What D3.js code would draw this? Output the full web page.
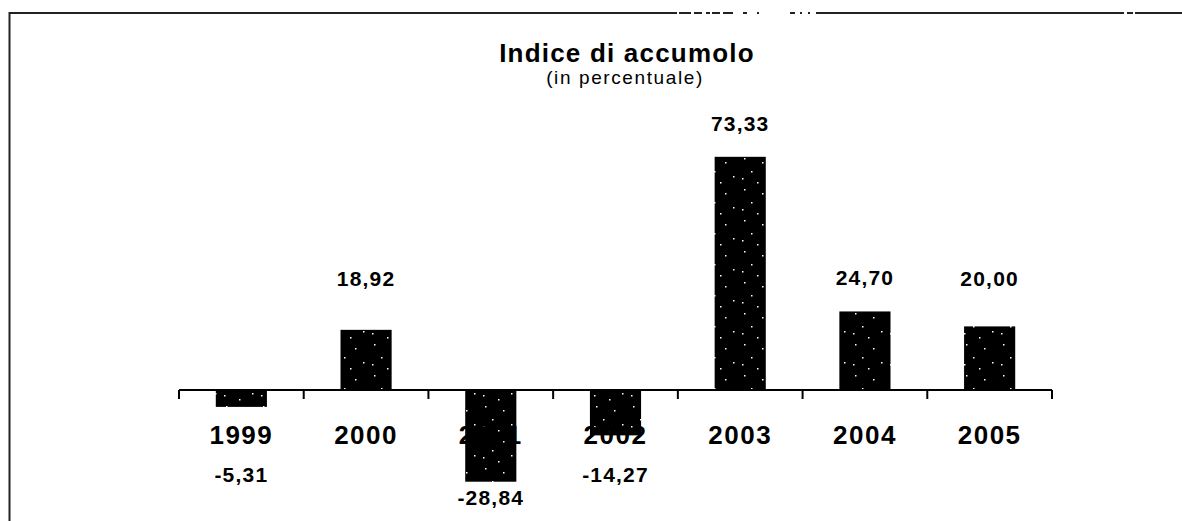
<!DOCTYPE html>
<html>
<head>
<meta charset="utf-8">
<script src="https://cdn.jsdelivr.net/npm/d3@7"></script>
<style>
  body { margin: 0; background: #fff; }
  text { font-family: "Liberation Sans", Arial, sans-serif; fill: #000; }
</style>
</head>
<body>
<script>
var years = ["1999", "2000", "2001", "2002", "2003", "2004", "2005"];
var values = [-5.31, 18.92, -28.84, -14.27, 73.33, 24.70, 20.00];
var valueLabels = ["-5,31", "18,92", "-28,84", "-14,27", "73,33", "24,70", "20,00"];

var W = 1182, H = 521;

var svg = d3.select("body").append("svg")
    .attr("width", W)
    .attr("height", H);

// speckled fill for the bars (sparse white dots on black)
var pat = svg.append("defs").append("pattern")
    .attr("id", "speck")
    .attr("patternUnits", "userSpaceOnUse")
    .attr("width", 37).attr("height", 31);
pat.append("rect").attr("width", 37).attr("height", 31).attr("fill", "#000");
[[4,3],[22,7],[11,16],[30,21],[17,27],[2,23]].forEach(function(p){
  pat.append("rect").attr("x", p[0]).attr("y", p[1]).attr("width", 1.5).attr("height", 1.5).attr("fill", "#fff");
});

// frame
var frame = svg.append("g").attr("stroke", "#222").attr("stroke-width", 2);
frame.append("line").attr("x1", 9.5).attr("y1", 12).attr("x2", 9.5).attr("y2", H);
[[9, 677], [679, 691], [694, 702], [706, 710], [712, 720], [723, 733], [743, 747], [757, 759],
 [790, 795], [800, 802], [808, 810], [816, 1124], [1127, 1133], [1135, 1182]].forEach(function(s){
  frame.append("line").attr("x1", s[0]).attr("y1", 13).attr("x2", s[1]).attr("y2", 13);
});

// title
svg.append("text")
    .attr("x", 627).attr("y", 62)
    .attr("text-anchor", "middle")
    .style("font-size", "26px").style("font-weight", "bold").style("letter-spacing", "1.2px")
    .text("Indice di accumolo");
svg.append("text")
    .attr("x", 625).attr("y", 84)
    .attr("text-anchor", "middle")
    .style("font-size", "19px").style("letter-spacing", "1.6px")
    .text("(in percentuale)");

/*Scales*/
var xScale = d3.scaleBand()
    .domain(years)
    .range([179, 1052])
    .padding(0);
var yScale = d3.scaleLinear()
    .domain([-35, 80])
    .range([390 + 35 * 3.18, 390 - 80 * 3.18]);

var barW = xScale.bandwidth() * 0.41;

// bars
svg.selectAll(".bar")
    .data(values)
    .enter().append("rect")
    .attr("class", "bar")
    .attr("x", function(d, i){ return xScale(years[i]) + xScale.bandwidth() / 2 - barW / 2; })
    .attr("y", function(d){ return yScale(Math.max(0, d)); })
    .attr("width", barW)
    .attr("height", function(d){ return Math.abs(yScale(d) - yScale(0)); })
    .attr("fill", "url(#speck)");

// axis line and ticks at band edges
var y0 = yScale(0);
var axis = svg.append("g").attr("stroke", "#000").attr("stroke-width", 2);
axis.append("line")
    .attr("x1", xScale.range()[0]).attr("x2", xScale.range()[1])
    .attr("y1", y0).attr("y2", y0);
var edges = years.map(function(y){ return xScale(y); }).concat([xScale.range()[1]]);
axis.selectAll(".tick")
    .data(edges)
    .enter().append("line")
    .attr("x1", function(d){ return d; }).attr("x2", function(d){ return d; })
    .attr("y1", y0).attr("y2", y0 + 9);

// year labels
svg.selectAll(".year")
    .data(years)
    .enter().append("text")
    .attr("x", function(d){ return xScale(d) + xScale.bandwidth() / 2; })
    .attr("y", 444)
    .attr("text-anchor", "middle")
    .style("font-size", "26px").style("font-weight", "bold").style("letter-spacing", "1.5px")
    .text(function(d){ return d; });

// value labels
svg.selectAll(".val")
    .data(values)
    .enter().append("text")
    .attr("x", function(d, i){ return xScale(years[i]) + xScale.bandwidth() / 2; })
    .attr("y", function(d){
      return d >= 0 ? Math.min(yScale(d) - 26, 286) : Math.max(yScale(d) + 23, 482);
    })
    .attr("text-anchor", "middle")
    .style("font-size", "21px").style("font-weight", "bold").style("letter-spacing", "1.2px")
    .text(function(d, i){ return valueLabels[i]; });
</script>
</body>
</html>
